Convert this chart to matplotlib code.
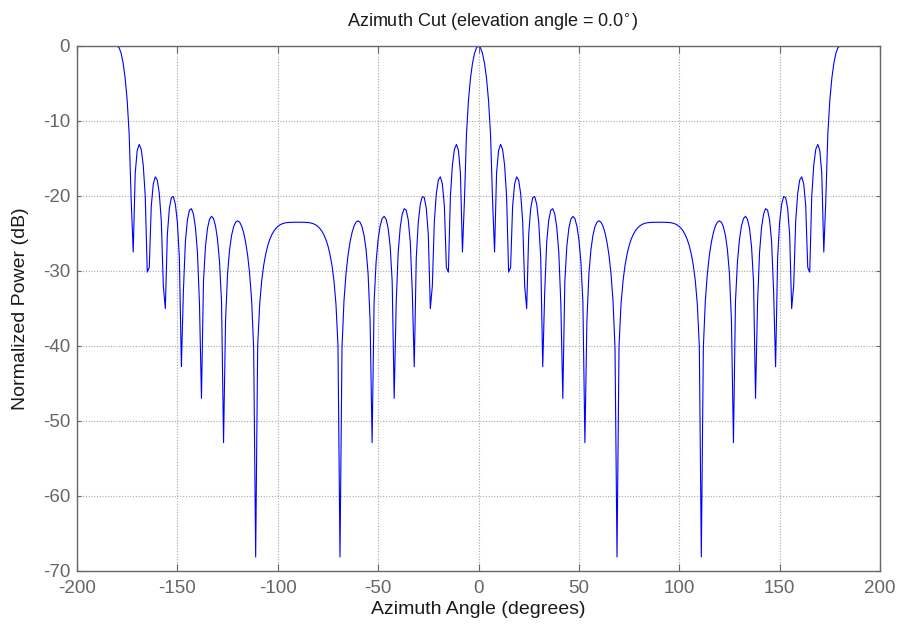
import matplotlib
matplotlib.use("Agg")
import matplotlib.pyplot as plt

plt.rcParams['font.family'] = ['Liberation Sans', 'DejaVu Sans']
plt.rcParams['axes.unicode_minus'] = False

# azimuth angles, 1 degree steps
azimuth_deg = list(range(-180, 181))

# normalized power (dB)
power_db = [
    0.00, -0.24, -0.99, -2.32, -4.32, -7.28, -11.83, -20.58, -27.50, -16.96,
    -13.92, -13.13, -13.80, -15.90, -20.09, -30.18, -29.54, -21.35, -18.41, -17.46,
    -17.89, -19.68, -23.39, -32.02, -35.05, -25.20, -21.68, -20.23, -20.09, -21.12,
    -23.52, -28.29, -42.80, -32.67, -26.09, -23.21, -21.92, -21.71, -22.44, -24.22,
    -27.54, -34.32, -47.02, -31.42, -26.74, -24.34, -23.13, -22.73, -23.03, -24.01,
    -25.81, -28.78, -34.12, -52.94, -36.65, -30.37, -27.19, -25.28, -24.14, -23.52,
    -23.33, -23.51, -24.03, -24.91, -26.18, -27.94, -30.39, -33.98, -40.28, -68.19,
    -40.00, -34.45, -31.33, -29.26, -27.78, -26.67, -25.84, -25.21, -24.72, -24.36,
    -24.09, -23.89, -23.75, -23.66, -23.59, -23.56, -23.54, -23.53, -23.52, -23.52,
    -23.52,
    -23.52, -23.52, -23.53, -23.54, -23.56, -23.59, -23.66, -23.75, -23.89, -24.09,
    -24.36, -24.72, -25.21, -25.84, -26.67, -27.78, -29.26, -31.33, -34.45, -40.00,
    -68.19, -40.28, -33.98, -30.39, -27.94, -26.18, -24.91, -24.03, -23.51, -23.33,
    -23.52, -24.14, -25.28, -27.19, -30.37, -36.65, -52.94, -34.12, -28.78, -25.81,
    -24.01, -23.03, -22.73, -23.13, -24.34, -26.74, -31.42, -47.02, -34.32, -27.54,
    -24.22, -22.44, -21.71, -21.92, -23.21, -26.09, -32.67, -42.80, -28.29, -23.52,
    -21.12, -20.09, -20.23, -21.68, -25.20, -35.05, -32.02, -23.39, -19.68, -17.89,
    -17.46, -18.41, -21.35, -29.54, -30.18, -20.09, -15.90, -13.80, -13.13, -13.92,
    -16.96, -27.50, -20.58, -11.83, -7.28, -4.32, -2.32, -0.99, -0.24, 0.00,
    -0.24, -0.99, -2.32, -4.32, -7.28, -11.83, -20.58, -27.50, -16.96,
    -13.92, -13.13, -13.80, -15.90, -20.09, -30.18, -29.54, -21.35, -18.41, -17.46,
    -17.89, -19.68, -23.39, -32.02, -35.05, -25.20, -21.68, -20.23, -20.09, -21.12,
    -23.52, -28.29, -42.80, -32.67, -26.09, -23.21, -21.92, -21.71, -22.44, -24.22,
    -27.54, -34.32, -47.02, -31.42, -26.74, -24.34, -23.13, -22.73, -23.03, -24.01,
    -25.81, -28.78, -34.12, -52.94, -36.65, -30.37, -27.19, -25.28, -24.14, -23.52,
    -23.33, -23.51, -24.03, -24.91, -26.18, -27.94, -30.39, -33.98, -40.28, -68.19,
    -40.00, -34.45, -31.33, -29.26, -27.78, -26.67, -25.84, -25.21, -24.72, -24.36,
    -24.09, -23.89, -23.75, -23.66, -23.59, -23.56, -23.54, -23.53, -23.52, -23.52,
    -23.52,
    -23.52, -23.52, -23.53, -23.54, -23.56, -23.59, -23.66, -23.75, -23.89, -24.09,
    -24.36, -24.72, -25.21, -25.84, -26.67, -27.78, -29.26, -31.33, -34.45, -40.00,
    -68.19, -40.28, -33.98, -30.39, -27.94, -26.18, -24.91, -24.03, -23.51, -23.33,
    -23.52, -24.14, -25.28, -27.19, -30.37, -36.65, -52.94, -34.12, -28.78, -25.81,
    -24.01, -23.03, -22.73, -23.13, -24.34, -26.74, -31.42, -47.02, -34.32, -27.54,
    -24.22, -22.44, -21.71, -21.92, -23.21, -26.09, -32.67, -42.80, -28.29, -23.52,
    -21.12, -20.09, -20.23, -21.68, -25.20, -35.05, -32.02, -23.39, -19.68, -17.89,
    -17.46, -18.41, -21.35, -29.54, -30.18, -20.09, -15.90, -13.80, -13.13, -13.92,
    -16.96, -27.50, -20.58, -11.83, -7.28, -4.32, -2.32, -0.99, -0.24, 0.00,
]

x_ticks = [-200, -150, -100, -50, 0, 50, 100, 150, 200]
y_ticks = [-70, -60, -50, -40, -30, -20, -10, 0]

W, H = 898, 626
L, R, T, B = 77, 880, 46, 570.5
fig = plt.figure(figsize=(W / 100, H / 100), dpi=100)
ax = fig.add_axes([L / W, 1 - B / H, (R - L) / W, (B - T) / H])

ax.plot(azimuth_deg, power_db, color='#0000ff', linewidth=0.8)

ax.set_xlim(-200, 200)
ax.set_ylim(-70, 0)
ax.set_xticks(x_ticks)
ax.set_yticks(y_ticks)

ax.grid(True, color='#a8a8a8', linestyle=(0, (1, 1.5)), linewidth=0.8)
ax.set_axisbelow(True)

tick_color = '#666666'
ax.tick_params(direction='in', top=True, right=True, width=0.8,
               colors=tick_color, labelsize=13.5, labelcolor=tick_color)
ax.tick_params(axis='x', length=5, pad=6.5)
ax.tick_params(axis='y', length=3, pad=5)
for s in ax.spines.values():
    s.set_color(tick_color)
    s.set_linewidth(1.0)

ax.set_xlabel('Azimuth Angle (degrees)', fontsize=14, color='#1a1a1a', labelpad=3)
ax.set_ylabel('Normalized Power (dB)', fontsize=14, color='#1a1a1a', labelpad=10)
t = ax.set_title('Azimuth Cut (elevation angle = 0.0$^{\\circ}$)', fontsize=13,
                 color='#1a1a1a', pad=13.5)
t.set_horizontalalignment('left')
t.set_x((347 - L) / (R - L))

fig.savefig('out.png', dpi=100)
